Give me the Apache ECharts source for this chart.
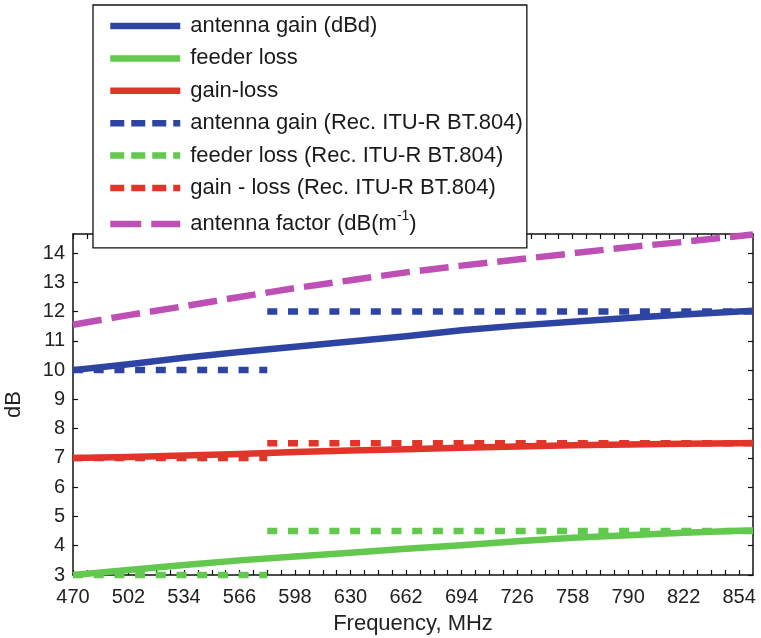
<!DOCTYPE html>
<html><head><meta charset="utf-8">
<script src="https://cdn.jsdelivr.net/npm/echarts@6/dist/echarts.min.js"></script>
<style>html,body{margin:0;padding:0;background:#fff}#c{width:761px;height:638px}</style>
</head><body><div id="c"></div>
<script>
// Frequency points (MHz)
const freq = [470, 502, 534, 566, 598, 630, 662, 694, 726, 758, 790, 822, 854, 862];
const antennaGain   = [10.00, 10.20, 10.42, 10.62, 10.80, 10.98, 11.16, 11.36, 11.52, 11.65, 11.78, 11.90, 12.00, 12.03];
const feederLoss    = [3.00, 3.17, 3.34, 3.50, 3.63, 3.76, 3.90, 4.02, 4.15, 4.27, 4.36, 4.44, 4.51, 4.52];
const gainLoss      = [7.00, 7.03, 7.08, 7.13, 7.20, 7.25, 7.30, 7.35, 7.39, 7.43, 7.46, 7.48, 7.50, 7.51];
const antennaFactor = [11.55, 11.88, 12.18, 12.50, 12.80, 13.07, 13.34, 13.57, 13.78, 13.99, 14.20, 14.38, 14.58, 14.63];

// Rec. ITU-R BT.804 band values (Band IV: 470-582, Band V: 582-862)
const recBandEdges = [470, 582, 862];
const recGain      = [10, 12];
const recLoss      = [3, 4.5];
const recGainLoss  = [7, 7.5];

const xTickLabels = [470, 502, 534, 566, 598, 630, 662, 694, 726, 758, 790, 822, 854];
const yTickLabels = [3, 4, 5, 6, 7, 8, 9, 10, 11, 12, 13, 14];

const names = [
  'antenna gain (dBd)',
  'feeder loss',
  'gain-loss',
  'antenna gain (Rec. ITU-R BT.804)',
  'feeder loss (Rec. ITU-R BT.804)',
  'gain - loss (Rec. ITU-R BT.804)',
  'antenna factor (dB(m-1)'
];
const BLUE = '#2e44a2', GREEN = '#62c84e', RED = '#e2352a', MAG = '#bd4fb5';

function pairs(xs, ys) { return xs.map((x, i) => [x, ys[i]]); }
function bands(vals) {
  return [[recBandEdges[0], vals[0]], [recBandEdges[1], vals[0]], [recBandEdges[1], '-'],
          [recBandEdges[1], vals[1]], [recBandEdges[2], vals[1]]];
}
const minorX = [];
for (let f = 470; f <= 854; f += 8) minorX.push(f);

const FONT = 'Liberation Sans';
const chart = echarts.init(document.getElementById('c'), null, {renderer: 'canvas'});

function lineSeries(name, data, color, type) {
  return {
    name, type: 'line', data, symbol: 'none', symbolSize: 0, showSymbol: false, clip: false,
    animation: false, connectNulls: false,
    lineStyle: {color, width: 6.5, type: type || 'solid', cap: 'butt', join: 'miter'},
    itemStyle: {color}
  };
}

const baseX = {
  type: 'value', min: 470, max: 862,
  axisLine: {show: true, onZero: false, lineStyle: {color: '#111', width: 1.5}},
  splitLine: {show: false}
};
const baseY = {
  type: 'value', min: 3, max: 14.65,
  axisLine: {show: true, onZero: false, lineStyle: {color: '#111', width: 1.5}},
  splitLine: {show: false}
};

const legendLine = (type) => ({width: 6.5, type, cap: 'butt'});

chart.setOption({
  animation: false,
  backgroundColor: '#fff',
  grid: {left: 73, right: 8, top: 234, bottom: 63, outerBoundsMode: 'none'},
  xAxis: [
    Object.assign({}, baseX, {
      position: 'bottom',
      name: 'Frequency, MHz', nameLocation: 'middle', nameGap: 38,
      nameTextStyle: {fontFamily: FONT, fontSize: 22, color: '#222'},
      axisTick: {show: true, inside: true, length: 5, customValues: minorX, lineStyle: {color: '#111', width: 1.2}},
      axisLabel: {show: true, customValues: xTickLabels, margin: 12, fontFamily: FONT, fontSize: 20, color: '#222'}
    }),
    Object.assign({}, baseX, {
      position: 'top',
      axisTick: {show: true, inside: true, length: 5, customValues: minorX, lineStyle: {color: '#111', width: 1.2}},
      axisLabel: {show: false}
    })
  ],
  yAxis: [
    Object.assign({}, baseY, {
      position: 'left',
      name: 'dB', nameLocation: 'middle', nameGap: 48, nameRotate: 90,
      nameTextStyle: {fontFamily: FONT, fontSize: 22, color: '#222'},
      axisTick: {show: true, inside: true, length: 5, customValues: yTickLabels, lineStyle: {color: '#111', width: 1.2}},
      axisLabel: {show: true, customValues: yTickLabels, margin: 8, fontFamily: FONT, fontSize: 20, color: '#222'}
    }),
    Object.assign({}, baseY, {
      position: 'right',
      axisTick: {show: true, inside: true, length: 5, customValues: yTickLabels, lineStyle: {color: '#111', width: 1.2}},
      axisLabel: {show: false}
    })
  ],
  legend: {
    show: true, orient: 'vertical', left: 93, top: 5,
    backgroundColor: '#fff', borderColor: '#111', borderWidth: 1.3,
    padding: [10, 4, 13, 14],
    itemWidth: 70, itemHeight: 8, itemGap: 10.4,
    selectedMode: false,
    itemStyle: {opacity: 0},
    lineStyle: {width: 6.5, cap: 'butt'},
    textStyle: {fontFamily: FONT, fontSize: 22, color: '#1a1a1a', padding: [0, 0, 0, 5],
      rich: {sup: {fontFamily: FONT, fontSize: 14, color: '#1a1a1a', padding: [0, 0, 15, 0]}}},
    formatter: function (n) {
      if (n === names[6]) return 'antenna factor (dB(m{sup|-1})';
      return n;
    },
    data: [
      {name: names[0], itemStyle: {opacity: 0}, lineStyle: legendLine('solid')},
      {name: names[1], itemStyle: {opacity: 0}, lineStyle: legendLine('solid')},
      {name: names[2], itemStyle: {opacity: 0}, lineStyle: legendLine('solid')},
      {name: names[3], itemStyle: {opacity: 0}, lineStyle: legendLine([14, 7])},
      {name: names[4], itemStyle: {opacity: 0}, lineStyle: legendLine([14, 7])},
      {name: names[5], itemStyle: {opacity: 0}, lineStyle: legendLine([14, 7])},
      {name: names[6], itemStyle: {opacity: 0}, lineStyle: legendLine([31, 10])}
    ]
  },
  series: [
    lineSeries(names[0], pairs(freq, antennaGain), BLUE),
    lineSeries(names[1], pairs(freq, feederLoss), GREEN),
    lineSeries(names[2], pairs(freq, gainLoss), RED),
    lineSeries(names[3], bands(recGain), BLUE, [10, 10.7]),
    lineSeries(names[4], bands(recLoss), GREEN, [10, 10.7]),
    lineSeries(names[5], bands(recGainLoss), RED, [10, 10.7]),
    lineSeries(names[6], pairs(freq, antennaFactor), MAG, [29, 10])
  ]
});
</script>
</body></html>
